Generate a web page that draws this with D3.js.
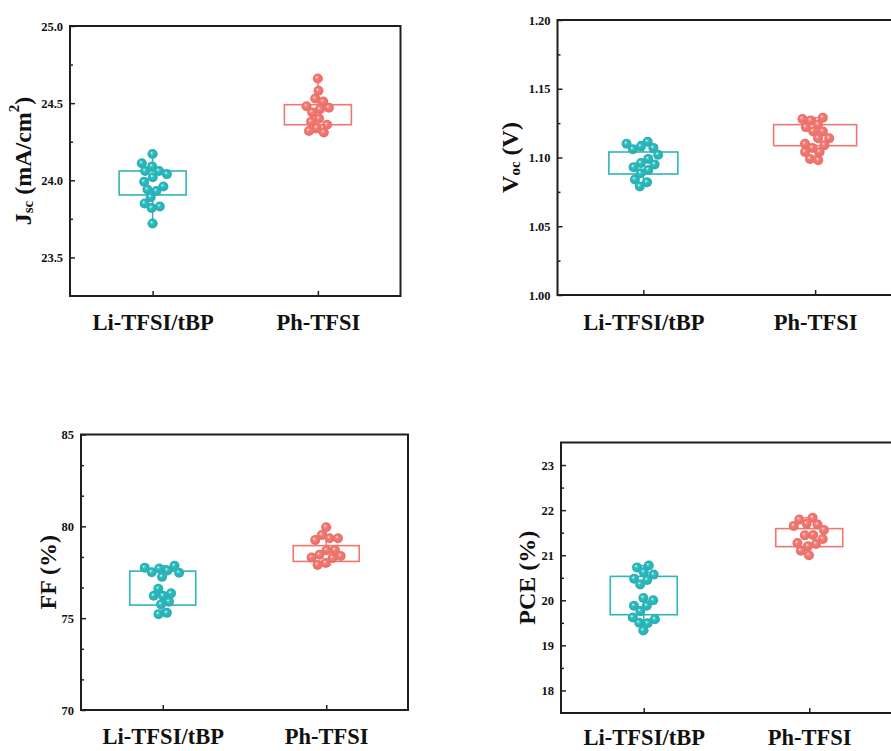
<!DOCTYPE html>
<html>
<head>
<meta charset="utf-8">
<script src="https://cdn.jsdelivr.net/npm/d3@7"></script>
<style>
  * { margin:0; padding:0 }
  body { background:#fff; overflow:hidden; }
  svg text { font-family:"Liberation Serif","Times New Roman",serif; font-weight:bold; fill:#111; }
</style>
</head>
<body>
<script>
// ---- data ----
var categories = ["Li-TFSI/tBP", "Ph-TFSI"];

var jscLi = [24.17, 24.11, 24.09, 24.06, 24.06, 24.04, 24.02, 23.99, 23.96, 23.94, 23.93, 23.89, 23.85, 23.83, 23.82, 23.72];
var jscPh = [24.66, 24.58, 24.53, 24.51, 24.48, 24.47, 24.46, 24.44, 24.40, 24.38, 24.36, 24.34, 24.32, 24.31];
var jscBox = [[23.905, 24.06], [24.36, 24.49]];
var jscTicks = [23.5, 24.0, 24.5, 25.0];
var jscMinor = [23.75, 24.25, 24.75];

var vocLi = [1.1115, 1.110, 1.108, 1.107, 1.106, 1.102, 1.099, 1.096, 1.095, 1.093, 1.091, 1.0885, 1.084, 1.082, 1.079];
var vocPh = [1.129, 1.128, 1.127, 1.124, 1.122, 1.119, 1.119, 1.114, 1.114, 1.110, 1.109, 1.107, 1.104, 1.104, 1.099, 1.098];
var vocBox = [[1.088, 1.104], [1.1086, 1.1239]];
var vocTicks = [1.00, 1.05, 1.10, 1.15, 1.20];
var vocMinor = [1.025, 1.075, 1.125, 1.175];

var ffLi = [77.85, 77.75, 77.7, 77.6, 77.5, 77.47, 77.25, 76.6, 76.35, 76.22, 76.22, 75.9, 75.75, 75.29, 75.22];
var ffPh = [79.95, 79.53, 79.35, 79.35, 79.25, 78.71, 78.7, 78.45, 78.38, 78.3, 78.27, 78.0, 77.9];
var ffBox = [[75.71, 77.56], [78.09, 78.95]];
var ffTicks = [70, 75, 80, 85];
var ffMinor = [71.667, 73.333, 76.667, 78.333, 81.667, 83.333];

var pceLi = [20.77, 20.73, 20.62, 20.57, 20.48, 20.45, 20.35, 20.05, 20.0, 19.88, 19.88, 19.76, 19.62, 19.58, 19.5, 19.49, 19.33];
var pcePh = [21.83, 21.79, 21.7, 21.68, 21.65, 21.56, 21.45, 21.44, 21.36, 21.27, 21.25, 21.2, 21.1, 21.0];
var pceBox = [[19.68, 20.53], [21.19, 21.59]];
var pceTicks = [18, 19, 20, 21, 22, 23];
var pceMinor = [18.5, 19.5, 20.5, 21.5, 22.5];

var colors = ["#2db5b9", "#f0766f"];

// ---- layout ----
var panels = [
  { li: jscLi, ph: jscPh, box: jscBox, ticks: jscTicks, minor: jscMinor, domain: [23.25, 25.0], fmt: ".1f",
    left: 70, right: 400.5, top: 26, bottom: 296, boxW: [67, 67], title: "jsc", tx: 23, ly: 34 },
  { li: vocLi, ph: vocPh, box: vocBox, ticks: vocTicks, minor: vocMinor, domain: [1.00, 1.20], fmt: ".2f",
    left: 557.5, right: 901, top: 20, bottom: 295, boxW: [69, 83], title: "voc", tx: 510, ly: 35 },
  { li: ffLi, ph: ffPh, box: ffBox, ticks: ffTicks, minor: ffMinor, domain: [70, 85], fmt: "d",
    left: 81, right: 408, top: 434.5, bottom: 710, boxW: [66, 66], title: "ff", tx: 48, ly: 34 },
  { li: pceLi, ph: pcePh, box: pceBox, ticks: pceTicks, minor: pceMinor, domain: [17.5, 23.5], fmt: "d",
    left: 561, right: 892, top: 442.5, bottom: 713, boxW: [67, 67], title: "pce", tx: 527, ly: 32 }
];

var svg = d3.select("body").append("svg")
  .attr("width", 891)
  .attr("height", 751);

var defs = svg.append("defs");
colors.forEach(function(c, i) {
  var g = defs.append("radialGradient").attr("id", "ball" + i)
    .attr("cx", "50%").attr("cy", "50%").attr("r", "55%")
    .attr("fx", "38%").attr("fy", "36%");
  g.append("stop").attr("offset", "0%").attr("stop-color", "#fff").attr("stop-opacity", 0.95);
  g.append("stop").attr("offset", "22%").attr("stop-color", d3.color(c).brighter(0.4));
  g.append("stop").attr("offset", "45%").attr("stop-color", c);
  g.append("stop").attr("offset", "100%").attr("stop-color", d3.color(c).darker(0.15));
});

panels.forEach(function(p) {
  var x = d3.scalePoint().domain(categories).range([p.left, p.right]).padding(0.5);
  var y = d3.scaleLinear().domain(p.domain).range([p.bottom, p.top]);
  var g = svg.append("g");

  // axes (inward ticks)
  var ya = g.append("g").attr("transform", "translate(" + p.left + ",0)")
    .call(d3.axisLeft(y).tickValues(p.ticks).tickFormat(d3.format(p.fmt))
      .tickSize(-5).tickSizeOuter(0).tickPadding(7));
  ya.select(".domain").remove();
  ya.selectAll("line").attr("stroke", "#222").attr("stroke-width", 1.5);
  ya.selectAll("text").style("font-size", "12.5px");

  var ym = g.append("g").attr("transform", "translate(" + p.left + ",0)")
    .call(d3.axisLeft(y).tickValues(p.minor).tickFormat("").tickSize(-3).tickSizeOuter(0));
  ym.select(".domain").remove();
  ym.selectAll("line").attr("stroke", "#222").attr("stroke-width", 1.5);

  var xa = g.append("g").attr("transform", "translate(0," + p.bottom + ")")
    .call(d3.axisBottom(x).tickSize(-5).tickSizeOuter(0));
  xa.select(".domain").remove();
  xa.selectAll("line").attr("stroke", "#222").attr("stroke-width", 1.5);
  xa.selectAll("text").attr("y", p.ly).attr("dy", null).style("font-size", "22.5px");

  // frame
  g.append("rect")
    .attr("x", p.left).attr("y", p.top)
    .attr("width", p.right - p.left).attr("height", p.bottom - p.top)
    .attr("fill", "none").attr("stroke", "#1e1e1e").attr("stroke-width", 2);

  // boxes + whiskers
  [p.li, p.ph].forEach(function(vals, i) {
    var cx = x(categories[i]), c = colors[i], w = p.boxW[i];
    var lo = d3.min(vals), hi = d3.max(vals);
    var b = p.box[i];
    g.append("line").attr("x1", cx).attr("x2", cx).attr("y1", y(b[1])).attr("y2", y(hi))
      .attr("stroke", c).attr("stroke-width", 1.5);
    g.append("line").attr("x1", cx).attr("x2", cx).attr("y1", y(b[0])).attr("y2", y(lo))
      .attr("stroke", c).attr("stroke-width", 1.5);
    [lo, hi].forEach(function(v) {
      g.append("line").attr("x1", cx - 5).attr("x2", cx + 5).attr("y1", y(v)).attr("y2", y(v))
        .attr("stroke", c).attr("stroke-width", 1.5);
    });
    g.append("rect")
      .attr("x", cx - w / 2).attr("y", y(b[1]))
      .attr("width", w).attr("height", y(b[0]) - y(b[1]))
      .attr("fill", "none").attr("stroke", c).attr("stroke-width", 1.6);

    // swarm of points: y fixed at value, x spread by collision
    var nodes = vals.map(function(v) { return { v: v, fy: y(v) }; });
    var sim = d3.forceSimulation(nodes)
      .force("x", d3.forceX(cx).strength(0.1))
      .force("collide", d3.forceCollide(4.2))
      .stop();
    for (var k = 0; k < 250; ++k) sim.tick();

    g.append("g").selectAll("circle")
      .data(nodes)
      .enter().append("circle")
      .attr("cx", function(d) { return d.x; })
      .attr("cy", function(d) { return d.fy; })
      .attr("r", 5)
      .attr("fill", "url(#ball" + i + ")");
  });

  // y title
  var cy = (p.top + p.bottom) / 2;
  var t = svg.append("text")
    .attr("transform", "translate(" + p.tx + "," + cy + ")rotate(-90)")
    .attr("text-anchor", "middle")
    .attr("dominant-baseline", "central")
    .style("font-size", "24px");
  if (p.title == "jsc") {
    t.append("tspan").text("J");
    t.append("tspan").text("sc").style("font-size", "15px").attr("dy", 5);
    t.append("tspan").text(" (mA/cm").attr("dy", -5);
    t.append("tspan").text("2").style("font-size", "15px").attr("dy", -9);
    t.append("tspan").text(")").attr("dy", 9);
  } else if (p.title == "voc") {
    t.append("tspan").text("V");
    t.append("tspan").text("oc").style("font-size", "15px").attr("dy", 5);
    t.append("tspan").text(" (V)").attr("dy", -5);
  } else if (p.title == "ff") {
    t.text("FF (%)");
  } else {
    t.text("PCE (%)");
  }
});
</script>
</body>
</html>
